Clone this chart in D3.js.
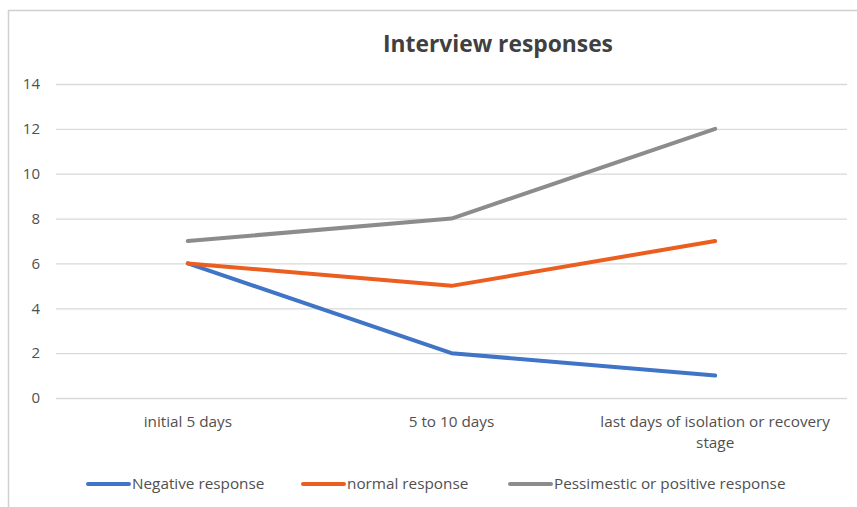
<!DOCTYPE html>
<html>
<head>
<meta charset="utf-8">
<script src="https://cdn.jsdelivr.net/npm/d3@7"></script>
<style>
  html, body { margin: 0; padding: 0; background: #fff; }
  svg { display: block; font-family: "Open Sans", "Noto Sans", sans-serif; }
</style>
</head>
<body>
<svg id="chart" width="857" height="507"></svg>
<script>
// Interview response counts over the isolation period
const categories = ["initial 5 days", "5 to 10 days", "last days of isolation or recovery stage"];
const negativeResponse = [6, 2, 1];
const normalResponse = [6, 5, 7];
const pessimisticResponse = [7, 8, 12];
const yTicks = [0, 2, 4, 6, 8, 10, 12, 14];
const seriesNames = ["Negative response", "normal response", "Pessimestic or positive response"];
const seriesColors = ["#4074C6", "#EB5E1F", "#8C8C8C"];

const series = [negativeResponse, normalResponse, pessimisticResponse].map((values, i) => ({
  name: seriesNames[i], color: seriesColors[i], values
}));

const svg = d3.select("#chart");
const labelColor = "#505050";

// chart frame
svg.append("rect")
  .attr("x", 8.5).attr("y", 10.5)
  .attr("width", 900).attr("height", 520)
  .attr("fill", "#fff").attr("stroke", "#d0d0d0").attr("stroke-width", 1.5);

const x = d3.scaleBand().domain(categories).range([56, 847]);
const y = d3.scaleLinear().domain([0, 14]).range([398, 84]);

// title
svg.append("text")
  .attr("x", 498).attr("y", 52)
  .attr("text-anchor", "middle")
  .attr("font-size", 22.8).attr("font-weight", 700)
  .attr("fill", "#404040")
  .text("Interview responses");

// horizontal gridlines + y labels
const yAxis = d3.axisLeft(y).tickValues(yTicks).tickSize(-(847 - 56)).tickPadding(16);
const gy = svg.append("g").attr("transform", "translate(56,0)").call(yAxis);
gy.select(".domain").remove();
gy.selectAll(".tick line").attr("stroke", "#d9d9d9").attr("stroke-width", 1.3);
gy.selectAll(".tick text")
  .attr("font-size", 15).attr("fill", labelColor)
  .attr("font-family", "\"Open Sans\", sans-serif");

// category labels, wrapped to the band width
const xAxis = d3.axisBottom(x).tickSize(0).tickPadding(18);
const gx = svg.append("g").attr("transform", "translate(0,398)").call(xAxis);
gx.select(".domain").remove();
gx.selectAll(".tick text")
  .attr("font-size", 15.3).attr("fill", labelColor)
  .attr("font-family", "\"Open Sans\", sans-serif")
  .each(function (d) {
    const t = d3.select(this);
    const words = d.split(" ");
    const maxW = x.bandwidth() - 14;
    t.text(null);
    let line = [];
    let tspan = t.append("tspan").attr("x", 0).attr("dy", "0.71em");
    for (const w of words) {
      line.push(w);
      tspan.text(line.join(" "));
      if (tspan.node().getComputedTextLength() > maxW && line.length > 1) {
        line.pop();
        tspan.text(line.join(" "));
        line = [w];
        tspan = t.append("tspan").attr("x", 0).attr("dy", 21).text(w);
      }
    }
  });

// lines
const lineGen = d3.line()
  .x((d, i) => x(categories[i]) + x.bandwidth() / 2)
  .y(d => y(d));

svg.append("g").selectAll("path")
  .data(series)
  .join("path")
  .attr("d", d => lineGen(d.values))
  .attr("fill", "none")
  .attr("stroke", d => d.color)
  .attr("stroke-width", 4)
  .attr("stroke-linejoin", "round")
  .attr("stroke-linecap", "round");

// legend
const legendX = [88, 303, 510];
const legend = svg.append("g").selectAll("g")
  .data(series)
  .join("g")
  .attr("transform", (d, i) => `translate(${legendX[i]},484)`);
legend.append("line")
  .attr("x1", 0).attr("x2", 41)
  .attr("stroke", d => d.color).attr("stroke-width", 4)
  .attr("stroke-linecap", "round");
legend.append("text")
  .attr("x", 44).attr("dy", "0.35em")
  .attr("font-size", 15.3).attr("fill", labelColor)
  .text(d => d.name);
</script>
</body>
</html>
